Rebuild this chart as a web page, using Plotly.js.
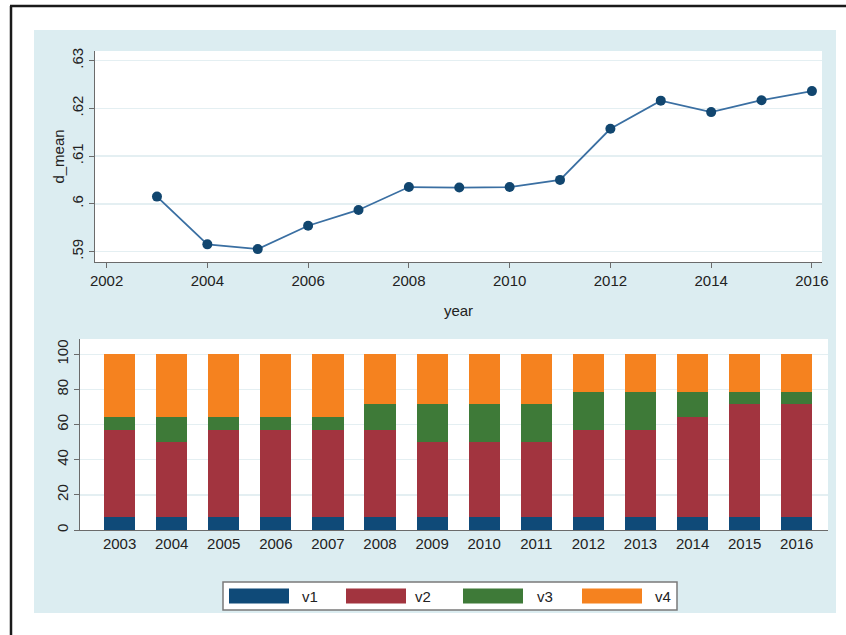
<!DOCTYPE html>
<html>
<head>
<meta charset="utf-8">
<script src="https://cdn.plot.ly/plotly-3.0.1.min.js"></script>
<style>html,body{margin:0;padding:0;background:#fff;}#chart{width:846px;height:635px;}</style>
</head>
<body>
<div id="chart"></div>
<script>
// ---- data ----
const years = [2003,2004,2005,2006,2007,2008,2009,2010,2011,2012,2013,2014,2015,2016];
const dMean = [0.6015,0.5915,0.5905,0.5954,0.5987,0.6035,0.6034,0.6035,0.6050,0.6157,0.6216,0.6192,0.6217,0.6236];
const v1 = [7.14,7.14,7.14,7.14,7.14,7.14,7.14,7.14,7.14,7.14,7.14,7.14,7.14,7.14];
const v2 = [50,42.86,50,50,50,50,42.86,42.86,42.86,50,50,57.14,64.29,64.29];
const v3 = [7.14,14.29,7.14,7.14,7.14,14.29,21.43,21.43,21.43,21.43,21.43,14.29,7.14,7.14];
const v4 = [35.71,35.71,35.71,35.71,35.71,28.57,28.57,28.57,28.57,21.43,21.43,21.43,21.43,21.43];
const seriesNames = ['v1','v2','v3','v4'];
const topXTicks = [2002,2004,2006,2008,2010,2012,2014,2016];
const topYTicks = [0.59,0.60,0.61,0.62,0.63];
const topYTickText = ['.59','.6','.61','.62','.63'];
const botYTicks = [0,20,40,60,80,100];
const botXTickText = years.map(String);

// ---- styling ----
const W = 846, H = 635;
const colors = ['#0f4a78','#a2343f','#3e7a38','#f5821f'];
const px = x => x / W;
const py = y => 1 - y / H;
const font = {family: 'Liberation Sans, Arial, sans-serif', size: 15, color: '#222'};
const gridC = '#e4eff2';
const axC = '#6b6b6b';

const traces = [
  {x: years, y: dMean, type: 'scatter', mode: 'lines+markers', xaxis: 'x', yaxis: 'y',
   line: {color: '#3a6fa2', width: 1.8}, marker: {color: '#11466f', size: 10}, showlegend: false, hoverinfo: 'x+y'}
];
[v1, v2, v3, v4].forEach((vals, i) => {
  traces.push({x: years, y: vals, type: 'bar', name: seriesNames[i], xaxis: 'x2', yaxis: 'y2',
    width: 0.6, marker: {color: colors[i], line: {width: 0}}, showlegend: false});
});

// legend drawn as swatches + labels
const legendSw = [[229,289],[346,406],[463,523],[582,642]];
const legendTx = [300,413,535,653];
const shapes = [
  {type:'rect', xref:'paper', yref:'paper', x0:px(34), x1:px(836), y0:py(613), y1:py(30), fillcolor:'#dcedf1', line:{width:0}, layer:'below'},
  {type:'rect', xref:'paper', yref:'paper', x0:px(95), x1:px(822), y0:py(262), y1:py(51), fillcolor:'#ffffff', line:{width:0}, layer:'below'},
  {type:'rect', xref:'paper', yref:'paper', x0:px(80), x1:px(828), y0:py(530), y1:py(339), fillcolor:'#ffffff', line:{width:0}, layer:'below'},
  {type:'line', xref:'paper', yref:'paper', x0:px(11), x1:px(11), y0:0, y1:py(6), line:{color:'#1a1a1a', width:2.5}},
  {type:'line', xref:'paper', yref:'paper', x0:px(10), x1:1, y0:py(6), y1:py(6), line:{color:'#1a1a1a', width:2.5}},
  {type:'rect', xref:'paper', yref:'paper', x0:px(223), x1:px(677), y0:py(610), y1:py(582), fillcolor:'#ffffff', line:{color:'#7a7a7a', width:1.5}}
];
const annotations = [];
legendSw.forEach((s, i) => {
  shapes.push({type:'rect', xref:'paper', yref:'paper', x0:px(s[0]), x1:px(s[1]), y0:py(603.5), y1:py(588.5), fillcolor:colors[i], line:{width:0}});
  annotations.push({xref:'paper', yref:'paper', x:px(legendTx[i]), y:py(596), xanchor:'left', yanchor:'middle', text:seriesNames[i], showarrow:false, font:font});
});

const layout = {
  width: W, height: H,
  margin: {l:0, r:0, t:0, b:0, pad:0},
  paper_bgcolor: '#ffffff', plot_bgcolor: 'rgba(0,0,0,0)',
  font: font,
  barmode: 'stack', bargap: 0.4,
  showlegend: false,
  xaxis: {domain:[px(95), px(822)], range:[2001.77, 2016.2], anchor:'y',
    tickvals: topXTicks, ticks:'outside', ticklen:5, tickcolor:axC, showline:true, linecolor:axC, linewidth:1,
    showgrid:false, zeroline:false, automargin:false, tickfont:font,
    title:{text:'year', font:font, standoff:17}},
  yaxis: {domain:[py(262), py(51)], range:[0.5878, 0.632], anchor:'x',
    tickvals: topYTicks, ticktext: topYTickText, tickangle:-90, ticks:'outside', ticklen:5, tickcolor:axC,
    showline:true, linecolor:axC, linewidth:1, showgrid:true, gridcolor:gridC, gridwidth:1.5, zeroline:false,
    automargin:false, tickfont:font, title:{text:'d_mean', font:font, standoff:0}},
  xaxis2: {domain:[px(80), px(828)], range:[2002.24, 2016.6], anchor:'y2',
    tickvals: years, ticktext: botXTickText, ticks:'', showline:true, linecolor:axC, linewidth:1,
    showgrid:false, zeroline:false, automargin:false, tickfont:font},
  yaxis2: {domain:[py(530), py(339)], range:[0, 108.7], anchor:'x2',
    tickvals: botYTicks, tickangle:-90, ticks:'outside', ticklen:5, tickcolor:axC,
    showline:true, linecolor:axC, linewidth:1, showgrid:true, gridcolor:gridC, gridwidth:1.5, zeroline:false,
    automargin:false, tickfont:font},
  shapes: shapes,
  annotations: annotations
};

Plotly.newPlot('chart', traces, layout, {displayModeBar:false, staticPlot:true});
</script>
</body>
</html>
